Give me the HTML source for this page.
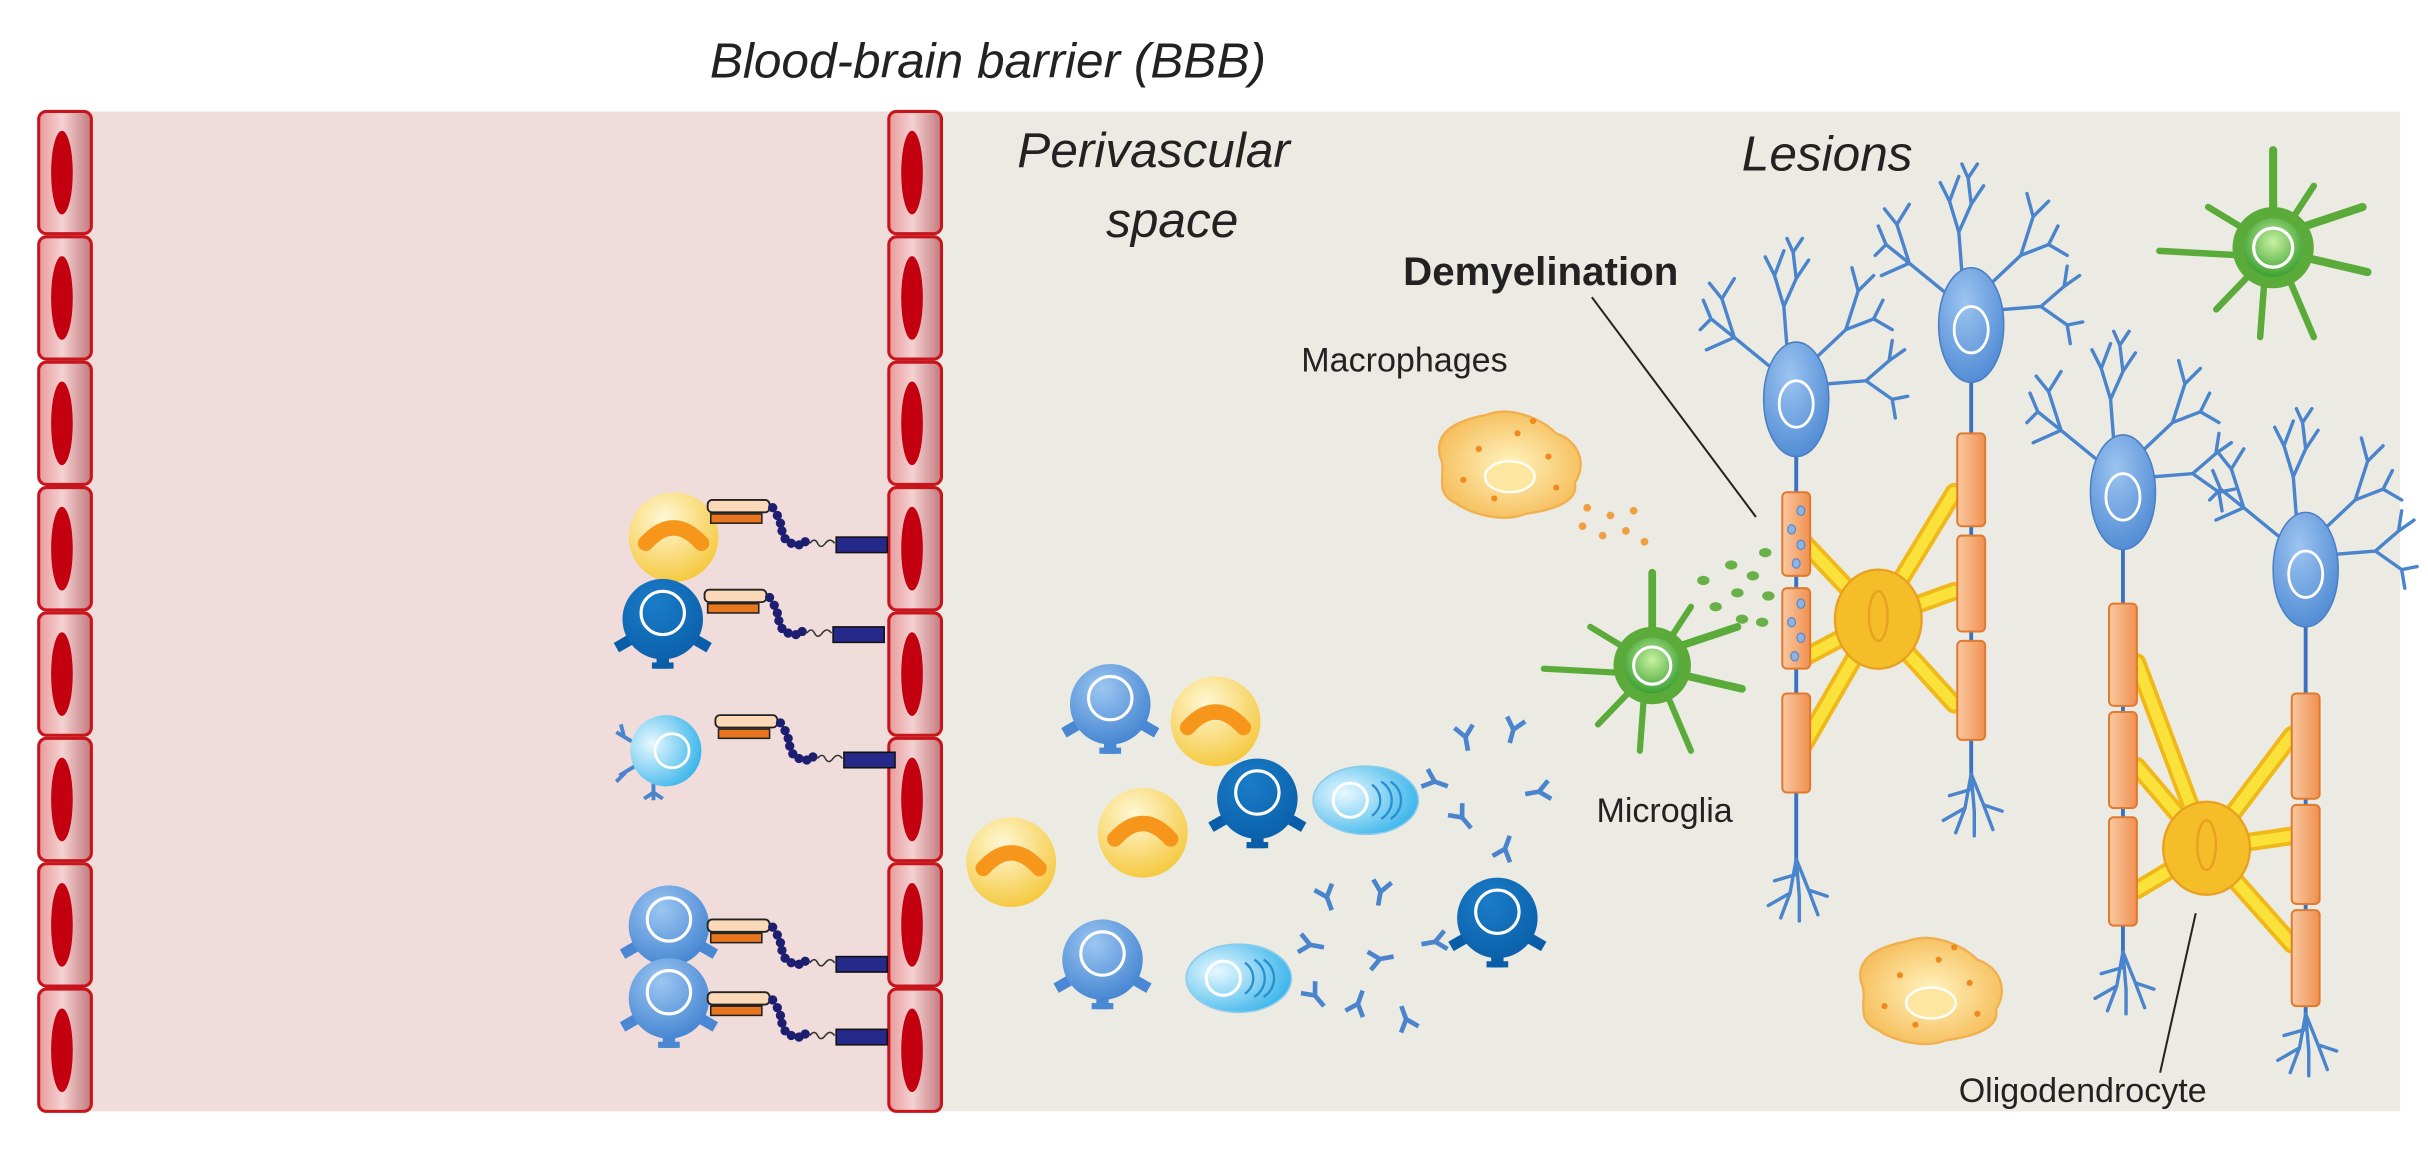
<!DOCTYPE html>
<html><head><meta charset="utf-8"><style>
html,body{margin:0;padding:0;background:#fff;}
svg{display:block;}
text{font-family:"Liberation Sans","DejaVu Sans",sans-serif;fill:#222;}
</style></head><body>
<svg width="2428" height="1164" viewBox="0 0 1568 752" preserveAspectRatio="none" xmlns="http://www.w3.org/2000/svg">
<defs>
<linearGradient id="wall" x1="0" x2="1" y1="0" y2="0"><stop offset="0" stop-color="#e89a9c"/><stop offset="0.45" stop-color="#f5d2d2"/><stop offset="1" stop-color="#c27a7d"/></linearGradient>
<radialGradient id="yel" cx="0.4" cy="0.3" r="0.8"><stop offset="0" stop-color="#fff8d6"/><stop offset="1" stop-color="#f4c32e"/></radialGradient>
<radialGradient id="blu" cx="0.4" cy="0.3" r="0.8"><stop offset="0" stop-color="#9cc6f2"/><stop offset="1" stop-color="#3c7fce"/></radialGradient>
<radialGradient id="dblu" cx="0.4" cy="0.3" r="0.8"><stop offset="0" stop-color="#1a7cc8"/><stop offset="1" stop-color="#0a5ea8"/></radialGradient>
<radialGradient id="lblu" cx="0.3" cy="0.4" r="0.8"><stop offset="0" stop-color="#e8f8ff"/><stop offset="1" stop-color="#28aee8"/></radialGradient>
<radialGradient id="grn" cx="0.5" cy="0.4" r="0.6"><stop offset="0" stop-color="#c8f0a0"/><stop offset="1" stop-color="#3aa030"/></radialGradient>
<radialGradient id="mac" cx="0.5" cy="0.5" r="0.6"><stop offset="0" stop-color="#fff4c0"/><stop offset="1" stop-color="#f5b850"/></radialGradient>
<linearGradient id="myel" x1="0" x2="1"><stop offset="0" stop-color="#f9c9a0"/><stop offset="1" stop-color="#f09050"/></linearGradient>
<radialGradient id="sog" cx="0.4" cy="0.3" r="0.8"><stop offset="0" stop-color="#9cc4f0"/><stop offset="1" stop-color="#4a86d2"/></radialGradient>

<g id="wc"><rect x="0" y="0" width="34" height="79" rx="5" fill="url(#wall)" stroke="#c8151c" stroke-width="2"/><ellipse cx="15" cy="39.5" rx="7" ry="27" fill="#c40010"/></g>

<g id="bind">
<rect x="0" y="0" width="40" height="8" rx="3" fill="#fbd9b8" stroke="#222" stroke-width="1.2"/>
<rect x="2" y="9" width="33" height="6" fill="#e8761e" stroke="#222" stroke-width="1"/>
<g fill="#1e1e70"><circle cx="42" cy="5" r="3"/><circle cx="45" cy="10" r="3"/><circle cx="47" cy="15" r="3"/><circle cx="48" cy="20" r="3"/><circle cx="50" cy="25" r="3"/><circle cx="54" cy="28" r="3"/><circle cx="59" cy="29" r="3"/><circle cx="63" cy="27" r="3"/></g>
<path d="M66 28 q3 -4 5 0 t5 0 t6 0" fill="none" stroke="#333" stroke-width="1"/>
<rect x="83" y="24" width="33" height="10" fill="#252a8a" stroke="#111" stroke-width="1"/>
</g>

<g id="ycell"><circle r="29" fill="url(#yel)"/><path d="M-18 4 Q0 -16 18 4" fill="none" stroke="#f6961a" stroke-width="10" stroke-linecap="round"/></g>
<g id="bcell"><g fill="#4a88d4"><rect x="-31" y="12" width="12" height="7" transform="rotate(-30 -25 15)"/><rect x="19" y="12" width="12" height="7" transform="rotate(30 25 15)"/><rect x="-4" y="22" width="8" height="10"/><rect x="-7" y="28" width="14" height="4"/></g><circle r="26" fill="url(#blu)"/><circle cx="0" cy="-4" r="14" fill="none" stroke="#fff" stroke-width="2"/></g>
<g id="dcell"><g fill="#0a5ea8"><rect x="-31" y="12" width="12" height="7" transform="rotate(-30 -25 15)"/><rect x="19" y="12" width="12" height="7" transform="rotate(30 25 15)"/><rect x="-4" y="22" width="8" height="10"/><rect x="-7" y="28" width="14" height="4"/></g><circle r="26" fill="url(#dblu)"/><circle cx="0" cy="-4" r="14" fill="none" stroke="#fff" stroke-width="2"/></g>
<g id="pcell"><ellipse rx="34" ry="22" fill="url(#lblu)" stroke="#8ccbec" stroke-width="1"/><circle cx="-10" cy="0" r="11" fill="none" stroke="#fff" stroke-width="2"/><path d="M4 -10 a12 12 0 0 1 0 20 M10 -12 a14 14 0 0 1 0 24 M16 -12 a14 14 0 0 1 0 24" fill="none" stroke="#2a8fcf" stroke-width="1.5"/></g>
<g id="ab" fill="none" stroke="#4a84cc" stroke-width="3"><path d="M0 0 l0 -9 M0 -9 l-6 -7 M0 -9 l6 -7"/></g>

<g id="mcg"><g fill="none" stroke="#5aab3a" stroke-linecap="round"><path d="M0 -10 L0 -60" stroke-width="5"/><path d="M10 -10 L55 -25" stroke-width="5"/><path d="M15 5 L58 15" stroke-width="5"/><path d="M8 15 L25 55" stroke-width="4"/><path d="M-5 15 L-8 55" stroke-width="4"/><path d="M-15 5 L-70 2" stroke-width="4"/><path d="M-12 -8 L-40 -25" stroke-width="4"/><path d="M-10 12 L-35 38" stroke-width="4"/><path d="M8 -12 L25 -38" stroke-width="4"/></g><circle r="25" fill="#5aab3a"/><circle r="18" fill="url(#grn)"/><circle r="12" fill="none" stroke="#fff" stroke-width="2"/></g>

<g id="mac1"><path d="M-45 -5 C-50 -25 -25 -30 -15 -32 C0 -38 20 -30 30 -20 C45 -15 50 0 42 12 C45 25 25 30 10 32 C-5 38 -25 32 -35 25 C-50 18 -40 5 -45 -5 Z" fill="url(#mac)" stroke="#f0b050" stroke-width="1.5"/><ellipse cx="0" cy="8" rx="16" ry="10" fill="#fde7a0" stroke="#fff" stroke-width="1.5"/><g fill="#f08a20"><circle cx="-20" cy="-10" r="2"/><circle cx="5" cy="-20" r="2"/><circle cx="25" cy="-5" r="2"/><circle cx="-30" cy="10" r="2"/><circle cx="30" cy="15" r="2"/><circle cx="-10" cy="22" r="2"/><circle cx="15" cy="-28" r="2"/></g></g>

<g id="dend" fill="none" stroke="#4a84cc" stroke-width="2.2" stroke-linecap="round">
<path d="M-6 -34 L-8 -60 L-14 -80 M-8 -60 L0 -78 L-2 -95 M0 -78 L8 -90 M-14 -80 L-20 -92 M-14 -80 L-8 -96 M-2 -95 L-6 -104 M-2 -95 L4 -104"/>
<path d="M-18 -22 L-40 -40 L-55 -52 M-40 -40 L-48 -65 M-55 -52 L-62 -45 M-55 -52 L-60 -64 M-48 -65 L-40 -78 M-48 -65 L-56 -75 M-40 -40 L-58 -32"/>
<path d="M14 -28 L32 -45 L40 -70 M32 -45 L50 -52 L62 -45 M40 -70 L36 -85 M40 -70 L50 -80 M50 -52 L56 -64"/>
<path d="M20 -10 L45 -12 L60 -25 M45 -12 L62 0 L72 -2 M62 0 L64 12 M60 -25 L70 -32 M60 -25 L62 -38"/>
</g>
<g id="dbot" fill="none" stroke="#4a84cc" stroke-width="2.2" stroke-linecap="round"><path d="M0 0 L-4 22 L-10 38 M0 0 L2 24 L2 40 M0 0 L8 20 L14 36 M-4 22 L-18 30 M8 20 L20 24 M0 10 L-14 14"/></g>
<g id="soma"><ellipse rx="21" ry="37" fill="url(#sog)" stroke="#4a7fc4" stroke-width="1"/><ellipse cx="0" cy="3" rx="11" ry="15" fill="none" stroke="#fff" stroke-width="1.8"/></g>
</defs>

<rect width="1568" height="752" fill="#fff"/>
<text x="638" y="50" font-size="32" font-style="italic" text-anchor="middle" fill="#333">Blood-brain barrier (BBB)</text>
<rect x="40" y="72" width="550" height="646" fill="#f1dcdc"/>
<rect x="590" y="72" width="960" height="646" fill="#ecebe3"/>

<g>
<use href="#wc" x="25" y="72"/><use href="#wc" x="25" y="153"/><use href="#wc" x="25" y="234"/><use href="#wc" x="25" y="315"/><use href="#wc" x="25" y="396"/><use href="#wc" x="25" y="477"/><use href="#wc" x="25" y="558"/><use href="#wc" x="25" y="639"/>
<use href="#wc" x="574" y="72"/><use href="#wc" x="574" y="153"/><use href="#wc" x="574" y="234"/><use href="#wc" x="574" y="315"/><use href="#wc" x="574" y="396"/><use href="#wc" x="574" y="477"/><use href="#wc" x="574" y="558"/><use href="#wc" x="574" y="639"/>
</g>

<use href="#ycell" x="435" y="347"/>
<use href="#dcell" x="428" y="400"/>
<g transform="translate(430,485)"><g fill="none" stroke="#4a84cc" stroke-width="2.5"><path d="M-22 -6 l-10 -6 m5 3 l-2 -8 M-20 10 l-10 6 m4 -2 l-6 6 M-8 20 l0 12 m0 -5 l-6 4 m6 -4 l6 4"/></g><circle r="23" fill="url(#lblu)"/><circle cx="4" cy="0" r="11" fill="none" stroke="#fff" stroke-width="1.8"/></g>
<use href="#bcell" x="432" y="598"/>
<use href="#bcell" x="432" y="645"/>
<use href="#bind" x="457" y="323"/>
<use href="#bind" x="455" y="381"/>
<use href="#bind" x="462" y="462"/>
<use href="#bind" x="457" y="594"/>
<use href="#bind" x="457" y="641"/>

<text x="745" y="108" font-size="32" font-style="italic" text-anchor="middle" fill="#333">Perivascular</text>
<text x="757" y="153" font-size="32" font-style="italic" text-anchor="middle" fill="#333">space</text>
<use href="#bcell" x="717" y="455"/>
<use href="#ycell" x="785" y="466"/>
<use href="#ycell" x="653" y="557"/>
<use href="#ycell" x="738" y="538"/>
<use href="#dcell" x="812" y="516"/>
<use href="#pcell" x="882" y="517"/>
<use href="#bcell" x="712" y="620"/>
<use href="#pcell" x="800" y="632"/>
<use href="#dcell" x="967" y="593"/>
<use href="#ab" transform="translate(948,485) rotate(-10)"/>
<use href="#ab" transform="translate(975,480) rotate(15)"/>
<use href="#ab" transform="translate(935,508) rotate(-70)"/>
<use href="#ab" transform="translate(985,513) rotate(80)"/>
<use href="#ab" transform="translate(950,535) rotate(-40)"/>
<use href="#ab" transform="translate(975,540) rotate(200)"/>
<use href="#ab" transform="translate(860,588) rotate(-20)"/>
<use href="#ab" transform="translate(890,585) rotate(10)"/>
<use href="#ab" transform="translate(855,612) rotate(-80)"/>
<use href="#ab" transform="translate(918,610) rotate(80)"/>
<use href="#ab" transform="translate(880,640) rotate(200)"/>
<use href="#ab" transform="translate(855,650) rotate(-40)"/>
<use href="#ab" transform="translate(905,650) rotate(160)"/>
<use href="#ab" transform="translate(900,618) rotate(-100)"/>

<text x="1180" y="110" font-size="32" font-style="italic" text-anchor="middle" fill="#333">Lesions</text>
<text x="995" y="184" font-size="26" font-weight="bold" text-anchor="middle" fill="#333">Demyelination</text>
<line x1="1028" y1="192" x2="1134" y2="334" stroke="#222" stroke-width="1.3"/>
<text x="907" y="240" font-size="22" text-anchor="middle" fill="#333">Macrophages</text>
<text x="1075" y="531" font-size="22" text-anchor="middle" fill="#333">Microglia</text>
<text x="1345" y="712" font-size="22" text-anchor="middle" fill="#333">Oligodendrocyte</text>
<line x1="1395" y1="693" x2="1418" y2="590" stroke="#222" stroke-width="1.3"/>

<use href="#mac1" x="975" y="300"/>
<use href="#mac1" x="1247" y="640"/>
<g fill="#f0a040"><circle cx="1025" cy="328" r="2.5"/><circle cx="1040" cy="333" r="2.5"/><circle cx="1055" cy="330" r="2.5"/><circle cx="1035" cy="346" r="2.5"/><circle cx="1050" cy="343" r="2.5"/><circle cx="1062" cy="350" r="2.5"/><circle cx="1022" cy="340" r="2.5"/></g>
<g fill="#6ab048"><ellipse cx="1140" cy="357" rx="4" ry="3"/><ellipse cx="1118" cy="365" rx="4" ry="3"/><ellipse cx="1132" cy="372" rx="4" ry="3"/><ellipse cx="1100" cy="375" rx="4" ry="3"/><ellipse cx="1122" cy="383" rx="4" ry="3"/><ellipse cx="1142" cy="385" rx="4" ry="3"/><ellipse cx="1108" cy="392" rx="4" ry="3"/><ellipse cx="1138" cy="402" rx="4" ry="3"/><ellipse cx="1125" cy="400" rx="4" ry="3"/></g>
<use href="#mcg" x="1067" y="430"/>
<use href="#mcg" transform="translate(1468,160) scale(1.05)"/>

<g stroke="#3a72c0" stroke-width="2.5"><line x1="1160" y1="290" x2="1160" y2="560"/><line x1="1273" y1="240" x2="1273" y2="505"/><line x1="1371" y1="350" x2="1371" y2="620"/><line x1="1489" y1="400" x2="1489" y2="660"/></g>
<use href="#dbot" x="1160" y="555"/>
<use href="#dbot" x="1273" y="500"/>
<use href="#dbot" x="1371" y="615"/>
<use href="#dbot" x="1489" y="655"/>

<g fill="none" stroke="#f0b818" stroke-width="12" stroke-linecap="round" stroke-linejoin="round">
<path d="M1212 400 L1160 345 M1212 400 L1165 425 M1212 400 L1160 490 M1212 400 L1262 318 M1212 400 L1262 382 M1212 400 L1262 455"/>
<path d="M1425 548 L1380 428 M1425 548 L1380 495 M1425 548 L1380 575 M1425 548 L1480 475 M1425 548 L1480 540 M1425 548 L1480 610"/>
</g>
<g fill="none" stroke="#fbe23a" stroke-width="7" stroke-linecap="round">
<path d="M1212 400 L1160 345 M1212 400 L1165 425 M1212 400 L1160 490 M1212 400 L1262 318 M1212 400 L1262 382 M1212 400 L1262 455"/>
<path d="M1425 548 L1380 428 M1425 548 L1380 495 M1425 548 L1380 575 M1425 548 L1480 475 M1425 548 L1480 540 M1425 548 L1480 610"/>
</g>
<ellipse cx="1213" cy="400" rx="28" ry="32" fill="#f5bd28" stroke="#e8a020" stroke-width="1.5"/><ellipse cx="1213" cy="398" rx="6" ry="16" fill="none" stroke="#e8a020" stroke-width="1.5"/>
<ellipse cx="1425" cy="548" rx="28" ry="30" fill="#f5bd28" stroke="#e8a020" stroke-width="1.5"/><ellipse cx="1425" cy="546" rx="6" ry="16" fill="none" stroke="#e8a020" stroke-width="1.5"/>

<g fill="url(#myel)" stroke="#e07a30" stroke-width="1.3">
<rect x="1151" y="318" width="18" height="54" rx="3"/><rect x="1151" y="380" width="18" height="52" rx="3"/><rect x="1151" y="448" width="18" height="64" rx="3"/>
<rect x="1264" y="280" width="18" height="60" rx="3"/><rect x="1264" y="346" width="18" height="62" rx="3"/><rect x="1264" y="414" width="18" height="64" rx="3"/>
<rect x="1362" y="390" width="18" height="66" rx="3"/><rect x="1362" y="460" width="18" height="62" rx="3"/><rect x="1362" y="528" width="18" height="70" rx="3"/>
<rect x="1480" y="448" width="18" height="68" rx="3"/><rect x="1480" y="520" width="18" height="64" rx="3"/><rect x="1480" y="588" width="18" height="62" rx="3"/>
</g>
<g fill="#8fb4e0" stroke="#5a88c8" stroke-width="0.8"><ellipse cx="1163" cy="330" rx="2.5" ry="3"/><ellipse cx="1157" cy="342" rx="2.5" ry="3"/><ellipse cx="1163" cy="352" rx="2.5" ry="3"/><ellipse cx="1160" cy="364" rx="2.5" ry="3"/><ellipse cx="1163" cy="390" rx="2.5" ry="3"/><ellipse cx="1157" cy="402" rx="2.5" ry="3"/><ellipse cx="1163" cy="412" rx="2.5" ry="3"/><ellipse cx="1159" cy="424" rx="2.5" ry="3"/></g>

<g transform="translate(1160,258)"><use href="#dend"/><use href="#soma"/></g>
<g transform="translate(1273,210)"><use href="#dend"/><use href="#soma"/></g>
<g transform="translate(1371,318)"><use href="#dend"/><use href="#soma"/></g>
<g transform="translate(1489,368)"><use href="#dend"/><use href="#soma"/></g>
</svg>
</body></html>
